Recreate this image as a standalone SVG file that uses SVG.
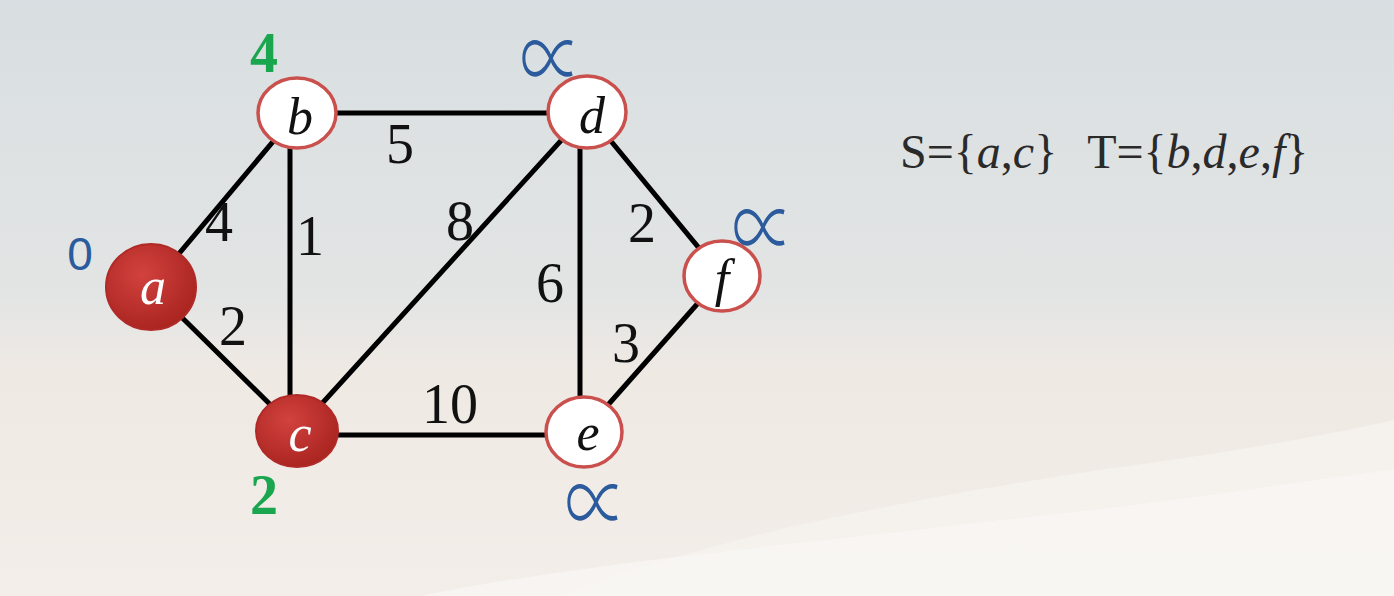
<svg xmlns="http://www.w3.org/2000/svg" width="1394" height="596" viewBox="0 0 1394 596">
<defs>
<linearGradient id="bg" x1="0" y1="0" x2="0" y2="1">
<stop offset="0" stop-color="#d8dee1"/>
<stop offset="0.5" stop-color="#e3e5e4"/>
<stop offset="0.62" stop-color="#efe9e4"/>
<stop offset="1" stop-color="#f3eee9"/>
</linearGradient>
<radialGradient id="red" cx="0.4" cy="0.35" r="0.7">
<stop offset="0" stop-color="#d2423e"/>
<stop offset="1" stop-color="#a8231f"/>
</radialGradient>
<style>
.edge{stroke:#000;stroke-width:5;fill:none;stroke-linecap:round}
.filled{fill:url(#red);stroke:#b02a27;stroke-width:2}
.open{fill:#fff;stroke:#c9504c;stroke-width:3.5}
.nl{font-family:"Liberation Serif",serif;font-style:italic;font-size:52px;text-anchor:middle}
.w{fill:#fff}
.k{fill:#111}
.wt{font-family:"Liberation Serif",serif;font-size:56px;fill:#111;text-anchor:middle}
.inf{font-family:"Noto Sans CJK JP","DejaVu Sans",sans-serif;font-weight:300;font-size:62px;fill:#2b5b9c;text-anchor:middle}
.blue{font-family:"Liberation Sans Narrow","Liberation Sans",sans-serif;font-size:46px;fill:#2b5b9c;text-anchor:middle}
.green{font-family:"Liberation Serif",serif;font-weight:bold;font-size:56px;fill:#1aa64f;text-anchor:middle}
.set{font-family:"Liberation Serif",serif;font-size:48px;fill:#2a2a2a}
</style>
</defs>
<rect width="1394" height="596" fill="url(#bg)"/>
<path d="M560 596 C700 540 900 500 1100 470 C1250 450 1350 430 1394 420 L1394 596 Z" fill="#f6f3f0" opacity="0.7"/>
<path d="M420 596 C600 560 800 545 1000 520 C1200 500 1300 480 1394 470 L1394 596 Z" fill="#faf8f6" opacity="0.6"/>

<g id="connectors">
<line class="edge" x1="151" y1="287" x2="297" y2="113"/>
<line class="edge" x1="151" y1="287" x2="297" y2="431"/>
<line class="edge" x1="297" y1="113" x2="587" y2="113"/>
<line class="edge" x1="290" y1="113" x2="290" y2="431"/>
<line class="edge" x1="297" y1="431" x2="587" y2="112"/>
<line class="edge" x1="297" y1="435" x2="584" y2="435"/>
<line class="edge" x1="580" y1="112" x2="580" y2="432"/>
<line class="edge" x1="587" y1="112" x2="722" y2="276"/>
<line class="edge" x1="584" y1="432" x2="722" y2="276"/>
<text class="wt" x="400" y="163">5</text>
<text class="wt" x="219" y="241">4</text>
<text class="wt" x="310" y="255">1</text>
<text class="wt" x="460" y="240">8</text>
<text class="wt" x="233" y="345">2</text>
<text class="wt" x="550" y="302">6</text>
<text class="wt" x="642" y="242">2</text>
<text class="wt" x="626" y="362">3</text>
<text class="wt" x="450" y="423">10</text>
</g>

<g id="node-a">
<ellipse class="filled" cx="151" cy="287" rx="45" ry="43"/>
<text class="nl w" x="153" y="304">a</text>
<text class="blue" x="80" y="270">0</text>
</g>
<g id="node-b">
<ellipse class="open" cx="297" cy="113" rx="39" ry="35"/>
<text class="nl k" x="300" y="134">b</text>
<text class="green" x="264" y="72">4</text>
</g>
<g id="node-c">
<ellipse class="filled" cx="297" cy="431" rx="41" ry="36"/>
<text class="nl w" x="300" y="451">c</text>
<text class="green" x="264" y="514">2</text>
</g>
<g id="node-d">
<ellipse class="open" cx="587" cy="112" rx="39" ry="36"/>
<text class="nl k" x="592" y="133">d</text>
<text class="inf" transform="translate(551 93) scale(1 1.5)">∝</text>
</g>
<g id="node-e">
<ellipse class="open" cx="584" cy="432" rx="38" ry="35"/>
<text class="nl k" x="588" y="450">e</text>
<text class="inf" transform="translate(596 537) scale(1 1.5)">∝</text>
</g>
<g id="node-f">
<ellipse class="open" cx="722" cy="276" rx="38" ry="35"/>
<text class="nl k" x="722" y="296">f</text>
<text class="inf" transform="translate(763 262) scale(1 1.5)">∝</text>
</g>

<g id="sets">
<text class="set" x="900" y="168">S={<tspan font-style="italic">a</tspan>,<tspan font-style="italic">c</tspan>}<tspan dx="30">T={</tspan><tspan font-style="italic">b</tspan>,<tspan font-style="italic">d</tspan>,<tspan font-style="italic">e</tspan>,<tspan font-style="italic">f</tspan>}</text>
</g>
</svg>
